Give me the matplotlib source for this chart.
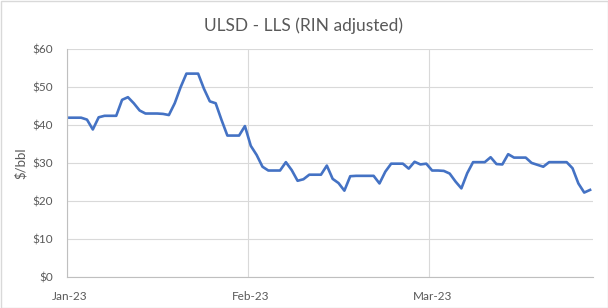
import matplotlib.pyplot as plt
from matplotlib.patches import Rectangle

# daily spread, Jan 1 - Mar 31 2023 ($/bbl)
spread = [
    42.0, 42.0, 42.0, 41.5, 38.9, 42.1, 42.5, 42.5, 42.5, 46.7,
    47.4, 45.8, 43.9, 43.1, 43.1, 43.1, 43.0, 42.7, 45.8, 50.0,
    53.6, 53.6, 53.6, 49.6, 46.3, 45.8, 41.4, 37.3, 37.3, 37.3,
    39.8, 34.6, 32.2, 29.1, 28.1, 28.1, 28.1, 30.3, 28.2, 25.4,
    25.8, 27.0, 27.0, 27.0, 29.4, 25.9, 24.8, 22.8, 26.6, 26.7,
    26.7, 26.7, 26.7, 24.7, 27.8, 29.9, 29.9, 29.9, 28.6, 30.4,
    29.7, 29.9, 28.1, 28.1, 28.0, 27.3, 25.2, 23.4, 27.4, 30.3,
    30.3, 30.3, 31.6, 29.8, 29.7, 32.4, 31.5, 31.5, 31.5, 30.1,
    29.6, 29.1, 30.3, 30.3, 30.3, 30.3, 28.7, 24.7, 22.3, 23.0,
]
label_pos = [0, 31, 62]
labels = ["Jan-23", "Feb-23", "Mar-23"]
y_ticks = [0, 10, 20, 30, 40, 50, 60]

GRID = "#d9d9d9"
TXT = "#595959"

plt.rcParams['font.family'] = ['Lato', 'DejaVu Sans']

fig = plt.figure(figsize=(6.08, 3.08), dpi=100)
ax = fig.add_axes([66.5 / 608, 1 - 277.3 / 308, (593 - 66.5) / 608, (277.3 - 49.3) / 308])

# category axis, points centred between ticks
x = [i + 0.5 for i in range(len(spread))]
ax.plot(x, spread, color="#4472C4", lw=1.9, solid_joinstyle="round", zorder=3)

ax.set_xlim(0, len(spread))
ax.set_ylim(0, 60)
ax.set_yticks(y_ticks)
ax.set_yticklabels(["$%d" % v for v in y_ticks])
ax.set_xticks([p + 0.5 for p in label_pos])
ax.set_xticklabels(labels)
ax.set_xticks(label_pos, minor=True)

ax.grid(axis="y", color=GRID, lw=0.8)
ax.grid(axis="x", which="minor", color=GRID, lw=0.8)
ax.set_axisbelow(True)
ax.tick_params(axis="both", which="both", length=0, colors=TXT, labelsize=8.5)
ax.tick_params(axis="y", pad=10)
ax.tick_params(axis="x", pad=10)

for s in ["top", "right"]:
    ax.spines[s].set_visible(False)
for s in ["left", "bottom"]:
    ax.spines[s].set_color("#bfbfbf")
    ax.spines[s].set_linewidth(0.8)

ax.set_ylabel("$/bbl", color=TXT, fontsize=9.5, labelpad=4)
fig.text(303 / 608, 1 - 26 / 308, "ULSD - LLS (RIN adjusted)", ha="center", va="center",
         color=TXT, fontsize=12.5)

fig.patches.append(Rectangle((0.5 / 608, 0.5 / 308), 607 / 608, 307 / 308, transform=fig.transFigure,
                             fill=False, edgecolor=GRID, lw=1))

fig.savefig("out.png", dpi=100)
